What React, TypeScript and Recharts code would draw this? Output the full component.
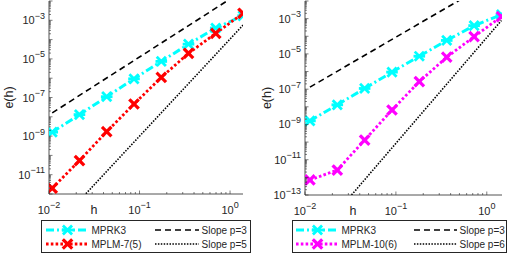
import React from "react";
import { LineChart, Line, XAxis, YAxis, Legend, Label } from "recharts";

// step sizes
const hLeft = [0.01086, 0.0217, 0.0434, 0.0869, 0.174, 0.3475, 0.695, 1.39];
const hRight = [0.01133, 0.02266, 0.0453, 0.0906, 0.181, 0.3625, 0.725, 1.45];

// errors
const mprk3 = [1.6e-9, 1.3e-8, 1.1e-7, 9.3e-7, 7.4e-6, 5.8e-5, 4.0e-4, 1.7e-3];
const mplm7 = [2.0e-12, 5.4e-11, 1.7e-9, 4.6e-8, 1.1e-6, 1.95e-5, 2.1e-4, 2.3e-3];
const mplm10 = [7.1e-13, 2.6e-12, 1.3e-10, 6.6e-9, 2.7e-7, 6.5e-6, 9.5e-5, 1.3e-3];

// reference slopes, value at first and last h
const slopeL3 = [1.6e-8, 3.4e-2];
const slopeL5 = [1.4e-14, 5.6e-4];
const slopeR3 = [1.3e-7, 2.7e-1];
const slopeR6 = [1.8e-16, 7.9e-4];

const xLabelTicks = [0.01, 0.1, 1];
const yLabelTicksL = [1e-11, 1e-9, 1e-7, 1e-5, 1e-3];
const yLabelTicksR = [1e-13, 1e-11, 1e-9, 1e-7, 1e-5, 1e-3];

const FONT = '"Liberation Sans", Arial, Helvetica, sans-serif';
const AX = "#262626";

function buildRows(h: number[], a: number[], b: number[], s1: number[], s2: number[]) {
  return h.map((v, i) => {
    const last = i === h.length - 1;
    return {
      h: v,
      a: a[i],
      b: b[i],
      s1: i === 0 ? s1[0] : last ? s1[1] : null,
      s2: i === 0 ? s2[0] : last ? s2[1] : null,
    };
  });
}

function logTicks(lo: number, hi: number) {
  const out: number[] = [];
  for (let k = Math.floor(Math.log10(lo)); k <= Math.ceil(Math.log10(hi)); k++) {
    for (let m = 1; m <= 9; m++) {
      const v = m * Math.pow(10, k);
      if (v >= lo * 0.999 && v <= hi * 1.001) out.push(v);
    }
  }
  return out;
}

const isIn = (v: number, list: number[]) => list.some((t) => Math.abs(t / v - 1) < 1e-6);
const isDecade = (v: number) => Math.abs(Math.log10(v) - Math.round(Math.log10(v))) < 1e-6;

function Pow({ v }: { v: number }) {
  const e = Math.round(Math.log10(v));
  const s = e < 0 ? "\u2212" + Math.abs(e) : String(e);
  return (
    <>
      10
      <tspan dy={-5.5} fontSize={9}>
        {s}
      </tspan>
    </>
  );
}

const tickText = { fill: AX, fontFamily: FONT, fontSize: 11 };

function makeTick(side: string, labels: number[] | null) {
  return (props: any) => {
    const { x, y, payload } = props;
    const v = payload.value;
    const major = labels ? isIn(v, labels) : false;
    const len = major || isDecade(v) ? 3.5 : 2;
    let line = null;
    if (side === "bottom") line = <line x1={x} x2={x} y1={y} y2={y - len} />;
    if (side === "top") line = <line x1={x} x2={x} y1={y} y2={y + len} />;
    if (side === "left") line = <line x1={x} x2={x + len} y1={y} y2={y} />;
    if (side === "right") line = <line x1={x} x2={x - len} y1={y} y2={y} />;
    return (
      <g stroke={AX} strokeWidth={0.6}>
        {line}
        {major && side === "bottom" && (
          <text x={x} y={y + 19.5} textAnchor="middle" stroke="none" {...tickText}>
            <Pow v={v} />
          </text>
        )}
        {major && side === "left" && (
          <text x={x - 4} y={y + 4} textAnchor="end" stroke="none" {...tickText}>
            <Pow v={v} />
          </text>
        )}
      </g>
    );
  };
}

function makeMarker(color: string, star: boolean) {
  return (props: any) => {
    const { cx, cy, index } = props;
    if (cx == null || cy == null) return <g key={index} />;
    const r = 3.6;
    return (
      <g key={index} stroke={color} strokeWidth={star ? 2.8 : 3.2} strokeLinecap="square">
        <line x1={cx - r} y1={cy - r} x2={cx + r} y2={cy + r} />
        <line x1={cx - r} y1={cy + r} x2={cx + r} y2={cy - r} />
        {star && <line x1={cx - r - 0.8} y1={cy} x2={cx + r + 0.8} y2={cy} />}
      </g>
    );
  };
}

type Item = { name: string; color: string; width: number; dash: string; marker?: any };

function LegendBox({ items, w, c1, c2 }: { items: Item[]; w: number; c1: number[]; c2: number[] }) {
  const rows = [10, 24];
  return (
    <div style={{ width: w, height: 33, border: `1px solid ${AX}`, background: "#fff", boxSizing: "border-box" }}>
      <svg width={w - 2} height={31} style={{ display: "block" }}>
        {items.map((it, i) => {
          const col = i < 2 ? c1 : c2;
          const yy = rows[i % 2] - 1;
          const mid = (col[0] + col[1]) / 2;
          return (
            <g key={it.name}>
              <line
                x1={col[0]}
                x2={col[1]}
                y1={yy}
                y2={yy}
                stroke={it.color}
                strokeWidth={it.width}
                strokeDasharray={it.dash}
              />
              {it.marker && it.marker({ cx: mid, cy: yy, index: 0 })}
              <text x={col[1] + 2.5} y={yy + 3.6} fontFamily={FONT} fontSize={10} fill={AX}>
                {it.name}
              </text>
            </g>
          );
        })}
      </svg>
    </div>
  );
}

type Panel = {
  rows: any[];
  xDomain: number[];
  yDomain: number[];
  yLabels: number[];
  yWidth: number;
  right: number;
  xHeight: number;
  hX: number;
  names: string[];
  bColor: string;
  legendLeft: number;
  legendWidth: number;
  c1: number[];
  c2: number[];
};

function ConvPanel(p: Panel) {
  const xt = logTicks(p.xDomain[0], p.xDomain[1]);
  const yt = logTicks(p.yDomain[0], p.yDomain[1]);
  const cyanMark = makeMarker("#00ffff", true);
  const bMark = makeMarker(p.bColor, false);
  const items: Item[] = [
    { name: p.names[0], color: "#00ffff", width: 3, dash: "8 3 2 3", marker: cyanMark },
    { name: p.names[1], color: p.bColor, width: 2.8, dash: "2.6 2.2", marker: bMark },
    { name: p.names[2], color: "#000", width: 1.6, dash: "6 4" },
    { name: p.names[3], color: "#000", width: 1.6, dash: "1.5 1.4" },
  ];
  const common = { scale: "log" as const, allowDataOverflow: true };
  return (
    <LineChart width={258} height={254} data={p.rows} margin={{ top: 1, right: p.right, bottom: 0, left: 0 }}>
      <XAxis
        xAxisId="b"
        dataKey="h"
        type="number"
        {...common}
        domain={p.xDomain}
        ticks={xt}
        interval={0}
        height={p.xHeight}
        tickSize={0}
        tickMargin={0}
        tickLine={false}
        axisLine={{ stroke: AX, strokeWidth: 0.8 }}
        tick={makeTick("bottom", xLabelTicks)}
      >
        <Label
          content={(lp: any) => (
            <text
              x={lp.viewBox.x + p.hX}
              y={lp.viewBox.y + 20}
              textAnchor="middle"
              fontFamily={FONT}
              fontSize={12.5}
              fill={AX}
            >
              h
            </text>
          )}
        />
      </XAxis>
      <XAxis
        xAxisId="t"
        orientation="top"
        mirror
        dataKey="h"
        type="number"
        {...common}
        domain={p.xDomain}
        ticks={xt}
        interval={0}
        height={0}
        tickSize={0}
        tickMargin={0}
        tickLine={false}
        axisLine={{ stroke: AX, strokeWidth: 0.8 }}
        tick={makeTick("top", xLabelTicks)}
      />
      <YAxis
        yAxisId="l"
        type="number"
        {...common}
        domain={p.yDomain}
        ticks={yt}
        interval={0}
        width={p.yWidth}
        tickSize={0}
        tickMargin={0}
        tickLine={false}
        axisLine={{ stroke: AX, strokeWidth: 0.8 }}
        tick={makeTick("left", p.yLabels)}
      >
        <Label
          content={(lp: any) => {
            const cx = lp.viewBox.x + 9;
            const cy = lp.viewBox.y + lp.viewBox.height / 2;
            return (
              <text
                x={cx}
                y={cy}
                transform={`rotate(-90 ${cx} ${cy})`}
                textAnchor="middle"
                dominantBaseline="central"
                fontFamily={FONT}
                fontSize={12.5}
                fill={AX}
              >
                e(h)
              </text>
            );
          }}
        />
      </YAxis>
      <YAxis
        yAxisId="r"
        orientation="right"
        mirror
        type="number"
        {...common}
        domain={p.yDomain}
        ticks={yt}
        interval={0}
        width={0}
        tickSize={0}
        tickMargin={0}
        tickLine={false}
        axisLine={{ stroke: AX, strokeWidth: 0.8 }}
        tick={makeTick("right", p.yLabels)}
      />
      <Line
        xAxisId="b"
        yAxisId="l"
        dataKey="a"
        stroke="#00ffff"
        strokeWidth={3}
        strokeDasharray="8 3 2 3"
        dot={cyanMark}
        isAnimationActive={false}
      />
      <Line
        xAxisId="b"
        yAxisId="l"
        dataKey="b"
        stroke={p.bColor}
        strokeWidth={2.8}
        strokeDasharray="2.6 2.2"
        dot={bMark}
        isAnimationActive={false}
      />
      <Line
        xAxisId="b"
        yAxisId="l"
        dataKey="s1"
        stroke="#000"
        strokeWidth={1.6}
        strokeDasharray="6 4"
        dot={false}
        connectNulls
        isAnimationActive={false}
      />
      <Line
        xAxisId="b"
        yAxisId="l"
        dataKey="s2"
        stroke="#000"
        strokeWidth={1.6}
        strokeDasharray="1.5 1.4"
        dot={false}
        connectNulls
        isAnimationActive={false}
      />
      <Legend
        layout="horizontal"
        verticalAlign="middle"
        align="center"
        wrapperStyle={{ top: 220, left: p.legendLeft, width: p.legendWidth, height: 33 }}
        content={() => <LegendBox items={items} w={p.legendWidth} c1={p.c1} c2={p.c2} />}
      />
    </LineChart>
  );
}

export default function App() {
  return (
    <div style={{ position: "absolute", left: 0, top: 0, width: 516, height: 254, background: "#fff" }}>
      <div style={{ position: "absolute", left: 0, top: 0 }}>
        <ConvPanel
          rows={buildRows(hLeft, mprk3, mplm7, slopeL3, slopeL5)}
          xDomain={[0.01, 1.39]}
          yDomain={[1e-12, 1e-2]}
          yLabels={yLabelTicksL}
          yWidth={49}
          right={15}
          xHeight={60}
          hX={45}
          names={["MPRK3", "MPLM-7(5)", "Slope p=3", "Slope p=5"]}
          bColor="#ff0000"
          legendLeft={41}
          legendWidth={210}
          c1={[4, 47]}
          c2={[113, 157]}
        />
      </div>
      <div style={{ position: "absolute", left: 258, top: 0 }}>
        <ConvPanel
          rows={buildRows(hRight, mprk3, mplm10, slopeR3, slopeR6)}
          xDomain={[0.01, 1.47]}
          yDomain={[1e-13, 1e-2]}
          yLabels={yLabelTicksR}
          yWidth={47}
          right={14}
          xHeight={59}
          hX={48}
          names={["MPRK3", "MPLM-10(6)", "Slope p=3", "Slope p=6"]}
          bColor="#ff00ff"
          legendLeft={34}
          legendWidth={215}
          c1={[3, 46]}
          c2={[121, 164]}
        />
      </div>
    </div>
  );
}
